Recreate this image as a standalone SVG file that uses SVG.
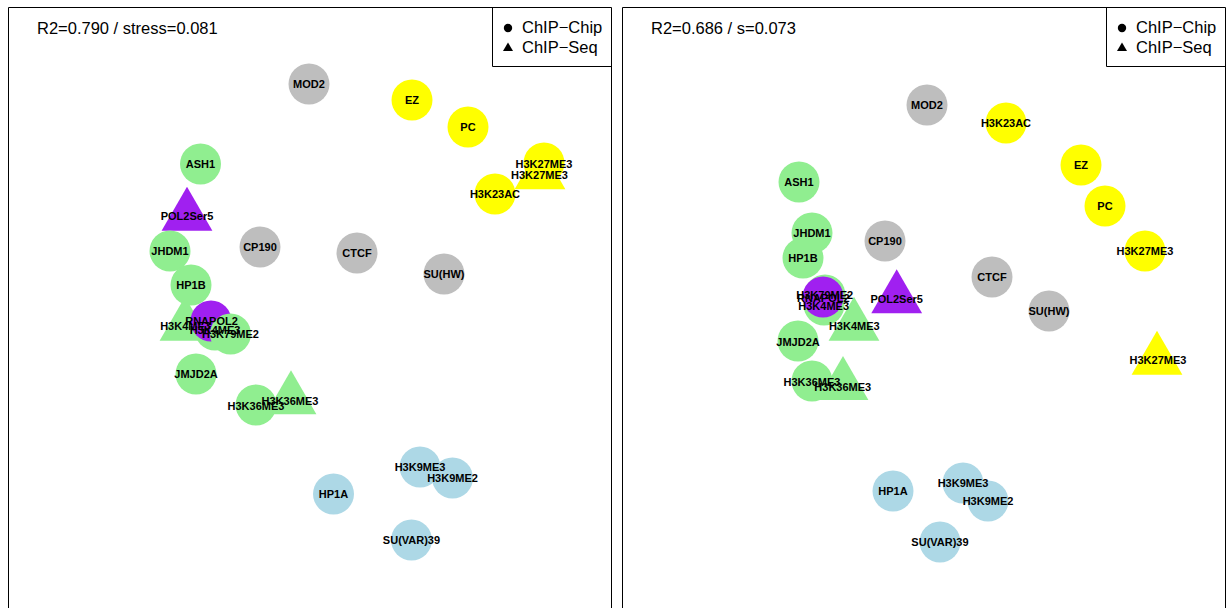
<svg xmlns="http://www.w3.org/2000/svg" width="1228" height="608" viewBox="0 0 1228 608">
<style>
.frame{fill:none;stroke:#000;stroke-width:1}
.lbl{font-family:"Liberation Sans",Arial,sans-serif;font-weight:bold;font-size:11px;fill:#000;text-anchor:middle}
.ttl{font-family:"Liberation Sans",Arial,sans-serif;font-size:16.5px;fill:#000}
.leg{font-family:"Liberation Sans",Arial,sans-serif;font-size:16.5px;fill:#000}
.g{fill:#90EE90}.y{fill:#FFFF00}.k{fill:#BEBEBE}.b{fill:#ADD8E6}.p{fill:#A020F0}
</style>
<defs>
<circle id="c" r="20.5"/>
<polygon id="t" points="0,-29.3 25.4,14.7 -25.4,14.7"/>
</defs>
<rect width="1228" height="608" fill="#fff"/>
<!-- left panel -->
<g id="left-panel">
<path class="frame" d="M8.5,620 V7.5 H611.5 V620"/>
<text class="ttl" x="37" y="34">R2=0.790 / stress=0.081</text>
<g id="legend-left">
<path class="frame" d="M492.5,7.5 V66.5 H611.5"/>
<circle cx="508" cy="28" r="4.2"/>
<polygon points="508,42.5 513,51 503,51"/>
<text class="leg" x="522" y="33">ChIP−Chip</text>
<text class="leg" x="522" y="53">ChIP−Seq</text>
</g>
</g>
<g id="connectors"/>
<g id="L-MOD2"><use href="#c" class="k" x="309" y="84"/><text class="lbl" x="309" y="88">MOD2</text></g>
<g id="L-EZ"><use href="#c" class="y" x="412" y="100"/><text class="lbl" x="412" y="104">EZ</text></g>
<g id="L-PC"><use href="#c" class="y" x="468" y="127"/><text class="lbl" x="468" y="131">PC</text></g>
<g id="L-H3K27ME3-chip"><use href="#c" class="y" x="544" y="163"/></g>
<g id="L-H3K27ME3-seq"><use href="#t" class="y" x="540" y="174.5"/></g>
<g id="L-H3K23AC"><use href="#c" class="y" x="495" y="194"/><text class="lbl" x="495" y="198">H3K23AC</text></g>
<g id="L-ASH1"><use href="#c" class="g" x="200.5" y="164"/><text class="lbl" x="200.5" y="168">ASH1</text></g>
<g id="L-POL2Ser5"><use href="#t" class="p" x="187" y="216"/><text class="lbl" x="187" y="220">POL2Ser5</text></g>
<g id="L-JHDM1"><use href="#c" class="g" x="170" y="251"/><text class="lbl" x="170" y="255">JHDM1</text></g>
<g id="L-CP190"><use href="#c" class="k" x="260" y="247"/><text class="lbl" x="260" y="251">CP190</text></g>
<g id="L-CTCF"><use href="#c" class="k" x="357" y="253"/><text class="lbl" x="357" y="257">CTCF</text></g>
<g id="L-SUHW"><use href="#c" class="k" x="444" y="274"/><text class="lbl" x="444" y="278">SU(HW)</text></g>
<g id="L-HP1B"><use href="#c" class="g" x="191" y="285"/><text class="lbl" x="191" y="289">HP1B</text></g>
<g id="L-H3K4ME3-seq"><use href="#t" class="g" x="185" y="326"/></g>
<g id="L-H3K4ME3-chip"><use href="#c" class="g" x="215" y="330"/></g>
<g id="L-RNAPOL2"><use href="#c" class="p" x="211" y="321"/></g>
<g id="L-H3K79ME2"><use href="#c" class="g" x="230.5" y="334"/></g>
<g id="L-JMJD2A"><use href="#c" class="g" x="196" y="374"/><text class="lbl" x="196" y="378">JMJD2A</text></g>
<g id="L-H3K36ME3-chip"><use href="#c" class="g" x="256" y="405"/></g>
<g id="L-H3K36ME3-seq"><use href="#t" class="g" x="291" y="399.5"/></g>
<g id="L-H3K9ME3"><use href="#c" class="b" x="420" y="467"/></g>
<g id="L-H3K9ME2"><use href="#c" class="b" x="452.5" y="478"/></g>
<g id="L-HP1A"><use href="#c" class="b" x="333.5" y="494"/><text class="lbl" x="333.5" y="498">HP1A</text></g>
<g id="L-SUVAR39"><use href="#c" class="b" x="411.5" y="540"/><text class="lbl" x="411.5" y="544">SU(VAR)39</text></g>
<g id="L-overlap-labels">
<text class="lbl" x="544" y="168">H3K27ME3</text>
<text class="lbl" x="539.5" y="178.5">H3K27ME3</text>
<text class="lbl" x="185.5" y="329.5">H3K4ME3</text>
<text class="lbl" x="211.5" y="324.5">RNAPOL2</text>
<text class="lbl" x="215" y="334">H3K4ME3</text>
<text class="lbl" x="230.5" y="338">H3K79ME2</text>
<text class="lbl" x="256" y="410">H3K36ME3</text>
<text class="lbl" x="290" y="405">H3K36ME3</text>
<text class="lbl" x="420" y="471">H3K9ME3</text>
<text class="lbl" x="452.5" y="482">H3K9ME2</text>
</g>
<!-- right panel -->
<g id="right-panel">
<path class="frame" d="M622.5,620 V7.5 H1225.5 V620"/>
<text class="ttl" x="651" y="34">R2=0.686 / s=0.073</text>
<g id="legend-right">
<path class="frame" d="M1106.5,7.5 V66.5 H1225.5"/>
<circle cx="1122" cy="28" r="4.2"/>
<polygon points="1122,42.5 1127,51 1117,51"/>
<text class="leg" x="1136" y="33">ChIP−Chip</text>
<text class="leg" x="1136" y="53">ChIP−Seq</text>
</g>
</g>
<g id="R-MOD2"><use href="#c" class="k" x="927" y="105"/><text class="lbl" x="927" y="109">MOD2</text></g>
<g id="R-H3K23AC"><use href="#c" class="y" x="1006" y="123"/><text class="lbl" x="1006" y="127">H3K23AC</text></g>
<g id="R-EZ"><use href="#c" class="y" x="1081" y="165"/><text class="lbl" x="1081" y="169">EZ</text></g>
<g id="R-PC"><use href="#c" class="y" x="1105" y="206"/><text class="lbl" x="1105" y="210">PC</text></g>
<g id="R-H3K27ME3-chip"><use href="#c" class="y" x="1145" y="251"/><text class="lbl" x="1145" y="255">H3K27ME3</text></g>
<g id="R-H3K27ME3-seq"><use href="#t" class="y" x="1157" y="360"/><text class="lbl" x="1158" y="364">H3K27ME3</text></g>
<g id="R-ASH1"><use href="#c" class="g" x="799" y="182"/><text class="lbl" x="799" y="186">ASH1</text></g>
<g id="R-JHDM1"><use href="#c" class="g" x="812" y="233"/><text class="lbl" x="812" y="237">JHDM1</text></g>
<g id="R-CP190"><use href="#c" class="k" x="885" y="241"/><text class="lbl" x="885" y="245">CP190</text></g>
<g id="R-HP1B"><use href="#c" class="g" x="803" y="258"/><text class="lbl" x="803" y="262">HP1B</text></g>
<g id="R-CTCF"><use href="#c" class="k" x="992" y="277"/><text class="lbl" x="992" y="281">CTCF</text></g>
<g id="R-SUHW"><use href="#c" class="k" x="1049" y="311"/><text class="lbl" x="1049" y="315">SU(HW)</text></g>
<g id="R-POL2Ser5"><use href="#t" class="p" x="896.7" y="298.6"/><text class="lbl" x="896.7" y="303">POL2Ser5</text></g>
<g id="R-H3K79ME2"><use href="#c" class="g" x="825" y="295"/></g>
<g id="R-H3K4ME3-chip"><use href="#c" class="g" x="824" y="305"/></g>
<g id="R-RNAPOL2"><use href="#c" class="p" x="823" y="297"/></g>
<g id="R-H3K4ME3-seq"><use href="#t" class="g" x="854" y="326"/></g>
<g id="R-JMJD2A"><use href="#c" class="g" x="798" y="341"/><text class="lbl" x="798" y="345.5">JMJD2A</text></g>
<g id="R-H3K36ME3-chip"><use href="#c" class="g" x="812" y="381"/></g>
<g id="R-H3K36ME3-seq"><use href="#t" class="g" x="843" y="385.3"/></g>
<g id="R-H3K9ME3"><use href="#c" class="b" x="963" y="483"/></g>
<g id="R-H3K9ME2"><use href="#c" class="b" x="988" y="501"/></g>
<g id="R-HP1A"><use href="#c" class="b" x="893" y="491"/><text class="lbl" x="893" y="495">HP1A</text></g>
<g id="R-SUVAR39"><use href="#c" class="b" x="940" y="542"/><text class="lbl" x="940" y="546">SU(VAR)39</text></g>
<g id="R-overlap-labels">
<text class="lbl" x="824.7" y="299">H3K79ME2</text>
<text class="lbl" x="823.3" y="301.5">RNAPOL2</text>
<text class="lbl" x="823.7" y="310">H3K4ME3</text>
<text class="lbl" x="854.3" y="330">H3K4ME3</text>
<text class="lbl" x="812" y="385.5">H3K36ME3</text>
<text class="lbl" x="842.8" y="391">H3K36ME3</text>
<text class="lbl" x="963" y="487">H3K9ME3</text>
<text class="lbl" x="988" y="505">H3K9ME2</text>
</g>
</svg>
